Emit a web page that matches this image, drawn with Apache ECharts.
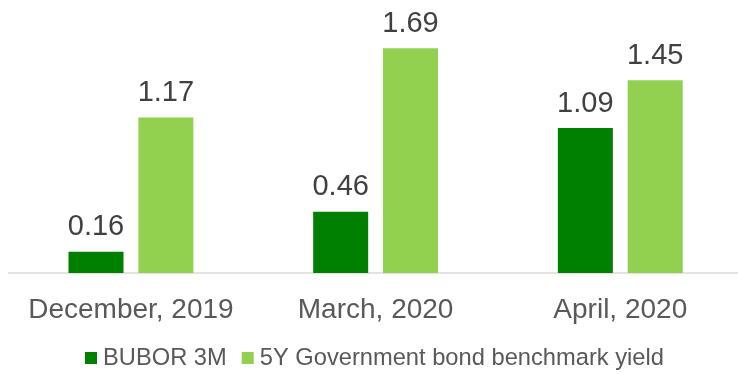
<!DOCTYPE html>
<html>
<head>
<meta charset="utf-8">
<script src="https://cdn.jsdelivr.net/npm/echarts@6/dist/echarts.min.js"></script>
<style>
  html, body { margin: 0; padding: 0; background: #ffffff; }
  #chart { width: 738px; height: 374px; }
</style>
</head>
<body>
<div id="chart"></div>
<script>
// Periods on the category axis
const categories = ['December, 2019', 'March, 2020', 'April, 2020'];
// Interest rates, %
const bubor3m = [0.16, 0.46, 1.09];
const bondYield5y = [1.17, 1.69, 1.45];
const seriesNames = ['BUBOR 3M', '5Y Government bond benchmark yield'];

const FONT = '"Liberation Sans", Arial, sans-serif';

const chart = echarts.init(document.getElementById('chart'), null, { renderer: 'canvas' });

const valueLabel = {
  show: true,
  position: 'top',
  distance: 10,
  fontFamily: FONT,
  fontSize: 29,
  color: '#404040',
  formatter: p => p.value.toFixed(2)
};

chart.setOption({
  animation: false,
  backgroundColor: '#ffffff',
  grid: {
    left: 8.6, width: 734, top: 7, bottom: 101,
    containLabel: false,
    outerBoundsMode: 'none'
  },
  legend: {
    data: seriesNames,
    top: 346,
    left: 85,
    padding: 0,
    itemWidth: 12,
    itemHeight: 12,
    itemGap: 15,
    icon: 'rect',
    textStyle: { fontFamily: FONT, fontSize: 23.7, color: '#595959', padding: [0, 0, 0, 1] }
  },
  xAxis: {
    type: 'category',
    data: categories,
    axisLine: { show: true, lineStyle: { color: '#d9d9d9', width: 1.5 } },
    axisTick: { show: false },
    axisLabel: { interval: 0, fontFamily: FONT, fontSize: 28, color: '#595959', margin: 23 }
  },
  yAxis: {
    type: 'value',
    min: 0,
    max: 2,
    show: false,
    splitLine: { show: false }
  },
  series: [
    {
      name: seriesNames[0],
      type: 'bar',
      data: bubor3m,
      barWidth: 55,
      barGap: '27%',
      itemStyle: { color: '#008000' },
      label: valueLabel
    },
    {
      name: seriesNames[1],
      type: 'bar',
      data: bondYield5y,
      barWidth: 55,
      barGap: '27%',
      itemStyle: { color: '#92d050' },
      label: valueLabel
    }
  ]
});
</script>
</body>
</html>
